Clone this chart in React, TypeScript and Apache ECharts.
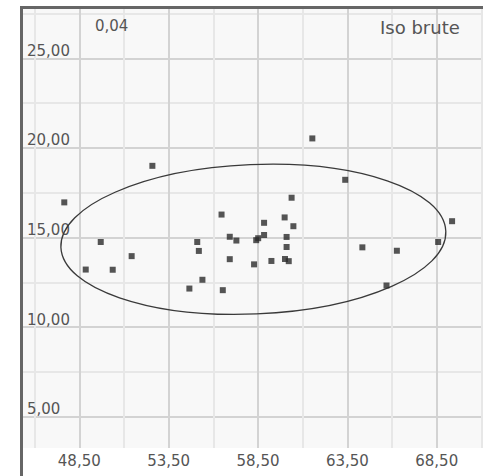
import React, { useEffect, useRef } from "react";
import * as echarts from "echarts";

// Scatter points (x, y)
const xValues = [
  47.66, 52.59, 49.70, 51.43, 48.86, 50.37, 54.66, 55.39, 56.53, 55.10,
  55.19, 56.46, 56.92, 57.29, 56.92, 58.28, 58.40, 58.51, 58.84, 58.84,
  59.25, 59.99, 60.48, 60.10, 60.10, 60.01, 60.22, 60.38, 61.54, 63.38,
  64.34, 66.27, 65.69, 68.58, 69.36,
];
const yValues = [
  16.96, 19.0, 14.75, 13.96, 13.21, 13.2, 12.15, 12.64, 12.06, 14.75,
  14.25, 16.28, 15.04, 14.83, 13.79, 13.5, 14.85, 14.96, 15.14, 15.82,
  13.69, 16.12, 15.63, 15.03, 14.47, 13.8, 13.68, 17.22, 20.53, 18.22,
  14.45, 14.26, 12.32, 14.75, 15.91,
];

// Confidence ellipse: centre x, centre y, semi-axis x, semi-axis y, tilt (deg)
const ellipseParams = [58.24, 14.9, 10.78, 4.17, 2.4];

// Axis ticks / labels
const xGridValues = [46, 48.5, 51, 53.5, 56, 58.5, 61, 63.5, 66, 68.5, 71];
const xLabelValues = [48.5, 53.5, 58.5, 63.5, 68.5];
const yGridValues = [5, 7.5, 10, 12.5, 15, 17.5, 20, 22.5, 25, 27.5];
const yLabelValues = [5, 10, 15, 20, 25];
const xRange = [45.35, 71.09];
const yRange = [3.25, 27.81];

const topLeftText = "0,04";
const topRightText = "Iso brute";

const fmt = (v: number) => v.toFixed(2).replace(".", ",");

export default function App() {
  const ref = useRef<HTMLDivElement>(null);
  useEffect(() => {
    if (!ref.current) return;
    const chart = echarts.init(ref.current, null, { renderer: "svg" });
    const font = "DejaVu Sans";
    const major = "#d3d3d3";
    const minor = "#e7e7e7";
    chart.setOption({
      animation: false,
      backgroundColor: "#ffffff",
      grid: {
        left: 23,
        top: 8,
        right: 0,
        bottom: 28,
        show: true,
        backgroundColor: "#f8f8f8",
        borderWidth: 0,
      },
      xAxis: {
        type: "value",
        min: xRange[0],
        max: xRange[1],
        axisLine: { show: false },
        axisTick: { show: false, customValues: xGridValues },
        axisLabel: {
          customValues: xLabelValues,
          formatter: (v: number) => fmt(v),
          fontFamily: font,
          fontSize: 15,
          color: "#555",
          margin: 5,
        },
        splitLine: {
          show: true,
          lineStyle: { color: [minor, major], width: 2 },
        },
      },
      yAxis: {
        type: "value",
        min: yRange[0],
        max: yRange[1],
        axisLine: { show: false },
        axisTick: { show: false, customValues: yGridValues },
        axisLabel: {
          customValues: yLabelValues,
          formatter: (v: number) => fmt(v),
          inside: true,
          fontFamily: font,
          fontSize: 15,
          color: "#555",
          margin: 4,
          verticalAlign: "bottom",
          align: "left",
        },
        splitLine: {
          show: true,
          lineStyle: { color: [major, minor], width: 2 },
        },
      },
      series: [
        {
          type: "scatter",
          data: xValues.map((x, i) => [x, yValues[i]]),
          symbol: "rect",
          symbolSize: 6,
          itemStyle: { color: "#2a2a2a" },
          z: 3,
        },
        {
          type: "custom",
          data: [ellipseParams],
          silent: true,
          z: 2,
          renderItem: (params: any, api: any) => {
            const c = api.coord([api.value(0), api.value(1)]);
            const s = api.size([api.value(2), api.value(3)]);
            return {
              type: "ellipse",
              x: c[0],
              y: c[1],
              rotation: (api.value(4) * Math.PI) / 180,
              shape: { cx: 0, cy: 0, rx: s[0], ry: s[1] },
              style: { fill: "none", stroke: "#3a3a3a", lineWidth: 1.3 },
            };
          },
        },
      ],
      graphic: [
        {
          type: "rect",
          z: 100,
          shape: { x: 21.5, y: 7.5, width: 520, height: 520 },
          style: { fill: "none", stroke: "#666666", lineWidth: 3 },
        },
        {
          type: "text",
          z: 100,
          x: 95,
          y: 25.5,
          style: {
            text: topLeftText,
            fontFamily: font,
            fontSize: 15,
            fill: "#555",
            verticalAlign: "middle",
          },
        },
        {
          type: "text",
          z: 100,
          x: 380,
          y: 27.5,
          style: {
            text: topRightText,
            fontFamily: font,
            fontSize: 18,
            fill: "#555",
            verticalAlign: "middle",
          },
        },
      ],
    });
    return () => chart.dispose();
  }, []);
  return (
    <div
      ref={ref}
      style={{ position: "absolute", left: 0, top: 0, width: 483, height: 476 }}
    />
  );
}
